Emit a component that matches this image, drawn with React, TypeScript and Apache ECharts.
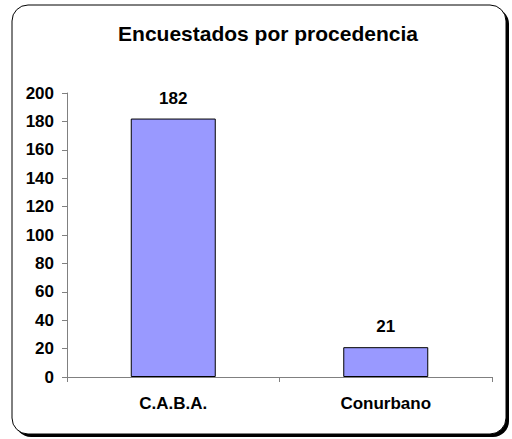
import React, { useEffect, useRef } from "react";
import * as echarts from "echarts";

const titleText = "Encuestados por procedencia";
const categories = ["C.A.B.A.", "Conurbano"];
const values = [182, 21];
const yMin = 0;
const yMax = 200;
const yInterval = 20;

const FONT = "Arial, 'Liberation Sans', sans-serif";

export default function App() {
  const ref = useRef<HTMLDivElement>(null);
  useEffect(() => {
    if (!ref.current) return;
    const chart = echarts.init(ref.current, undefined, { renderer: "svg" });
    chart.setOption({
      animation: false,
      backgroundColor: "#ffffff",
      graphic: [
        {
          type: "rect",
          z: -10,
          silent: true,
          shape: { x: 15, y: 8, width: 494, height: 429, r: 16 },
          style: { fill: "#000000" },
        },
        {
          type: "rect",
          z: -9,
          silent: true,
          shape: { x: 12, y: 5, width: 494, height: 429, r: 16 },
          style: { fill: "#ffffff", stroke: "#000000", lineWidth: 1 },
        },
      ],
      title: {
        text: titleText,
        left: 263,
        top: 18,
        textAlign: "center",
        textStyle: { fontFamily: FONT, fontWeight: "bold", fontSize: 21, color: "#000" },
      },
      grid: { left: 67, right: 20, top: 93, bottom: 62 },
      xAxis: {
        type: "category",
        data: categories,
        axisLine: { show: true, lineStyle: { color: "#808080", width: 1 } },
        axisTick: { show: true, length: 5, lineStyle: { color: "#808080" } },
        axisLabel: { fontFamily: FONT, fontWeight: "bold", fontSize: 17, color: "#000", margin: 18 },
      },
      yAxis: {
        type: "value",
        min: yMin,
        max: yMax,
        interval: yInterval,
        splitLine: { show: false },
        axisLine: { show: true, lineStyle: { color: "#808080", width: 1 } },
        axisTick: { show: true, length: 5, lineStyle: { color: "#808080" } },
        axisLabel: { fontFamily: FONT, fontWeight: "bold", fontSize: 17, color: "#000", margin: 13 },
      },
      series: [
        {
          type: "bar",
          data: values,
          barWidth: "40%",
          itemStyle: { color: "#9999ff", borderColor: "#000000", borderWidth: 1 },
          label: {
            show: true,
            position: "top",
            distance: 12,
            fontFamily: FONT,
            fontWeight: "bold",
            fontSize: 17,
            color: "#000",
          },
        },
      ],
    });
    return () => chart.dispose();
  }, []);
  return (
    <div
      ref={ref}
      style={{ position: "fixed", left: 0, top: 0, width: 512, height: 439 }}
    />
  );
}
